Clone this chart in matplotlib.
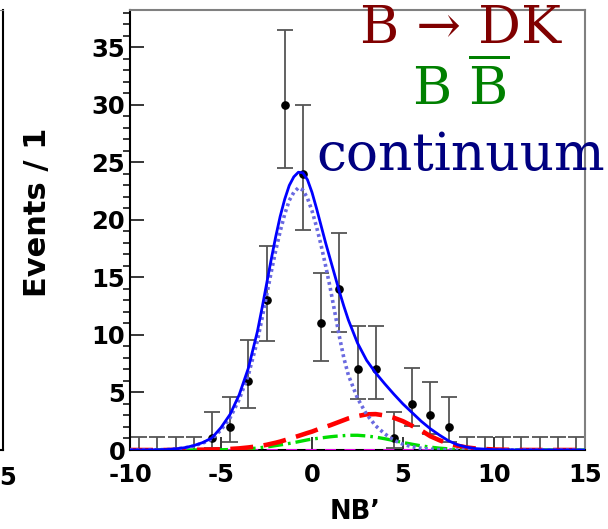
import numpy as np
import matplotlib
matplotlib.use("Agg")
import matplotlib.pyplot as plt
from matplotlib.ticker import MultipleLocator

plt.rcParams['axes.unicode_minus'] = False
plt.rcParams['mathtext.fontset'] = 'dejavuserif'

# binned data (bins of width 1)
bin_centers = [-9.5, -8.5, -7.5, -6.5, -5.5, -4.5, -3.5, -2.5, -1.5, -0.5, 0.5, 1.5,
               2.5, 3.5, 4.5, 5.5, 6.5, 7.5, 8.5, 9.5, 10.5, 11.5, 12.5, 13.5, 14.5]
counts = [0, 0, 0, 0, 1, 2, 6, 13, 30, 24, 11, 14,
          7, 7, 1, 4, 3, 2, 0, 0, 0, 0, 0, 0, 0]
# asymmetric (Poisson) errors as drawn
err_lo = [0, 0, 0, 0, 0.83, 1.29, 2.38, 3.56, 5.45, 4.86, 3.27, 3.70,
          2.58, 2.58, 0.83, 1.91, 1.63, 1.29, 0, 0, 0, 0, 0, 0, 0]
err_hi = [1.15, 1.15, 1.15, 1.15, 2.30, 2.64, 3.58, 4.70, 6.54, 5.97, 4.42, 4.83,
          3.77, 3.77, 2.30, 3.16, 2.92, 2.64, 1.15, 1.15, 1.15, 1.15, 1.15, 1.15, 1.15]

# fit curves
curve_x = [-10, -9, -8, -7.5, -7, -6.5, -6, -5.5, -5, -4.5, -4, -3.5, -3, -2.75,
           -2.5, -2.25, -2, -1.75, -1.5, -1.25, -1, -0.75, -0.5, -0.25, 0, 0.25,
           0.5, 0.75, 1, 1.25, 1.5, 1.75, 2, 2.5, 3, 3.5, 4, 4.5, 5, 5.5,
           6, 6.5, 7, 7.5, 8, 8.5, 9, 10, 11, 12, 13, 14, 15]
total_fit = [0.0, 0.01, 0.04, 0.1, 0.2, 0.38, 0.65, 1.05, 1.95, 3.1, 4.8, 7.1, 10.3, 12.3,
             14.4, 16.5, 18.5, 20.3, 21.8, 23.0, 23.75, 24.15, 24.1, 23.5, 22.4, 21.0,
             19.5, 18.0, 16.6, 15.2, 13.8, 12.5, 11.3, 9.3, 7.8, 6.7, 5.75, 4.85, 4.0, 3.25,
             2.5, 1.85, 1.3, 0.8, 0.45, 0.25, 0.12, 0.03, 0.01, 0.0, 0.0, 0.0, 0.0]
continuum = [0.0, 0.01, 0.04, 0.09, 0.18, 0.35, 0.6, 0.95, 1.75, 2.8, 4.4, 6.5, 9.5, 11.4,
             13.4, 15.4, 17.3, 19.0, 20.5, 21.7, 22.4, 22.8, 22.6, 21.9, 20.8, 19.4,
             17.8, 16.0, 14.1, 12.0, 9.9, 8.0, 6.5, 4.5, 3.1, 2.1, 1.4, 0.85, 0.5, 0.28,
             0.15, 0.07, 0.03, 0.01, 0.0, 0.0, 0.0, 0.0, 0.0, 0.0, 0.0, 0.0, 0.0]
b_to_dk = [0.0, 0.0, 0.0, 0.01, 0.01, 0.02, 0.03, 0.04, 0.06, 0.09, 0.14, 0.22, 0.32, 0.38,
           0.45, 0.54, 0.63, 0.73, 0.85, 0.97, 1.1, 1.22, 1.35, 1.48, 1.6, 1.75,
           1.9, 2.02, 2.15, 2.3, 2.45, 2.6, 2.75, 2.95, 3.1, 3.12, 3.0, 2.8, 2.5, 2.1,
           1.7, 1.2, 0.85, 0.55, 0.37, 0.22, 0.13, 0.04, 0.01, 0.0, 0.0, 0.0, 0.0]
b_bbar = [0.0, 0.0, 0.0, 0.0, 0.0, 0.0, 0.01, 0.01, 0.02, 0.04, 0.06, 0.1, 0.17, 0.22,
          0.27, 0.32, 0.38, 0.44, 0.5, 0.57, 0.64, 0.72, 0.8, 0.88, 0.95, 1.0,
          1.05, 1.1, 1.15, 1.19, 1.22, 1.25, 1.28, 1.28, 1.22, 1.12, 0.98, 0.82, 0.65, 0.5,
          0.36, 0.25, 0.16, 0.1, 0.06, 0.03, 0.02, 0.0, 0.0, 0.0, 0.0, 0.0, 0.0]
other_x = [-10, 15]
other_y = [0.0, 0.0]

W, H = 608, 529
fig = plt.figure(figsize=(W / 100, H / 100), dpi=100)

ax_rect = [130 / W, 1 - 450 / H, 455 / W, 440.5 / H]

# edge of the neighbouring panel (cut off on the left)
ax0 = fig.add_axes([(3.3 - 455) / W, ax_rect[1], ax_rect[2], ax_rect[3]])
ax0.set_xticks([])
ax0.set_yticks([])
for side in ['left', 'bottom', 'right']:
    ax0.spines[side].set_linewidth(1.5)
ax0.spines['top'].set_color('#808080')
fig.text(7.5 / W, 1 - 485 / H, '5', ha='center', va='baseline',
         fontsize=17.5, fontweight='bold', family='DejaVu Sans')

ax = fig.add_axes(ax_rect)
x = np.array(bin_centers)
y = np.array(counts)
ax.errorbar(x, y, yerr=[err_lo, err_hi], fmt='none', ecolor='#555555',
            elinewidth=1.3, capsize=6, capthick=1.3, zorder=2)
nz = y > 0
ax.plot(x[nz], y[nz], 'o', color='black', ms=5.2, zorder=2.5)

ax.plot(other_x, other_y, color='#ff00ff', lw=2, dashes=(4, 3), zorder=3)
ax.plot(curve_x, b_bbar, color='#00dd00', lw=2.4, dashes=(4.5, 1.5, 0.8, 1.5), zorder=3)
ax.plot(curve_x, b_to_dk, color='#ff0000', lw=3.3, dashes=(5, 2.3), zorder=3)
ax.plot(curve_x, continuum, color='#6a6ae0', lw=2.6, dashes=(0.8, 0.9), zorder=3)
ax.plot(curve_x, total_fit, color='#0000ff', lw=2, zorder=4)

ax.set_xlim(-10, 15)
ax.set_ylim(0, 38.3)
ax.set_xticks([-10, -5, 0, 5, 10, 15])
ax.set_yticks(range(0, 36, 5))
ax.yaxis.set_minor_locator(MultipleLocator(1))
ax.tick_params(direction='in', top=False, right=False, labelsize=17.5)
ax.tick_params(axis='y', which='major', length=10, width=1.1, pad=3.5)
ax.tick_params(axis='y', which='minor', length=5, width=1.1)
ax.tick_params(axis='x', which='major', length=9.5, width=1.1, pad=9.5)
ax.tick_params(axis='x', which='minor', bottom=False)
for lab in ax.get_xticklabels() + ax.get_yticklabels():
    lab.set_fontweight('bold')
for side in ['left', 'bottom']:
    ax.spines[side].set_linewidth(1.5)
for side in ['top', 'right']:
    ax.spines[side].set_color('#808080')
    ax.spines[side].set_linewidth(1.5)

fig.text(38 / W, 1 - 212 / H, 'Events / 1', rotation=90, ha='center', va='center',
         fontsize=22, fontweight='bold')
fig.text(355 / W, 1 - 512 / H, 'NB\u2019', ha='center', va='center',
         fontsize=18.5, fontweight='bold')

serif = ['DejaVu Serif', 'DejaVu Sans']
fig.text(461 / W, 1 - 43 / H, 'B \u2192 DK', ha='center', va='baseline',
         fontsize=38.5, color='#800000', family=serif)
fig.text(461 / W, 1 - 105 / H, r'B $\overline{\mathrm{B}}$', ha='center', va='baseline',
         fontsize=38.5, color='#008000', family=serif)
fig.text(461 / W, 1 - 170 / H, 'continuum', ha='center', va='baseline',
         fontsize=38.5, color='#000080', family=serif)

fig.savefig('out.png', dpi=100)
